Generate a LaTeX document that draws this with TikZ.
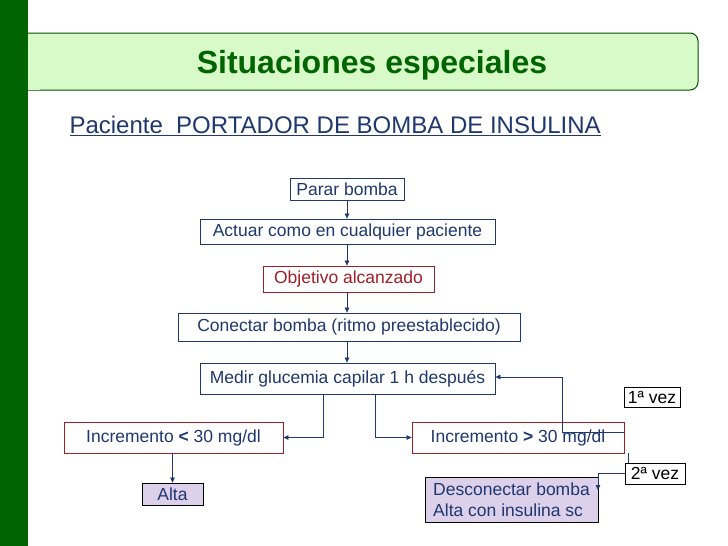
\documentclass[tikz,border=0pt]{standalone}
\usepackage{fontspec}
\setmainfont{Liberation Sans}
\usetikzlibrary{arrows.meta}
\definecolor{dg}{RGB}{0,100,0}
\definecolor{lg}{RGB}{216,250,200}
\definecolor{navy}{RGB}{31,56,110}
\definecolor{dred}{RGB}{160,30,40}
\definecolor{lav}{RGB}{220,208,235}
\begin{document}
\begin{tikzpicture}[x=1pt,y=-1pt,
  bx/.style={draw=navy,line width=0.8pt,text=navy,font=\fontsize{17.5}{21}\selectfont,inner sep=0pt},
  rbx/.style={bx,draw=dred},
  arr/.style={draw=navy,line width=0.7pt,-{Triangle[length=5pt,width=4.5pt]}},
  ln/.style={draw=navy,line width=0.7pt}]
\useasboundingbox (0,0) rectangle (728,546);
\fill[white] (0,0) rectangle (728,546);
\fill[dg] (0,0) rectangle (28,546);
\draw[fill=lg,draw=dg!80!black,line width=1pt,rounded corners=8pt] (28,33) -- (698,33) -- (698,90) -- (28,90);
\fill[lg] (28,33.5) rectangle (40,89.5);
\node[text=dg,font=\bfseries\fontsize{32}{36}\selectfont] (title) at (372,65) {Situaciones especiales};
\node[anchor=west,text=navy,font=\fontsize{24}{28}\selectfont] (sub) at (66,126) {\underline{Paciente\ \ PORTADOR DE BOMBA DE INSULINA}};
\node[bx,minimum width=114,minimum height=22] (parar) at (347,189) {Parar bomba};
\node[bx,minimum width=295,minimum height=25] (actuar) at (347.5,231.5) {Actuar como en cualquier paciente\hspace{8pt}};
\node[rbx,text=dred,minimum width=171,minimum height=26] (obj) at (348.5,279) {Objetivo alcanzado};
\node[bx,minimum width=342,minimum height=28] (con) at (349,327) {Conectar bomba (ritmo preestablecido)};
\node[bx,minimum width=295,minimum height=31] (medir) at (347.5,378.5) {Medir glucemia capilar 1 h después};
\node[rbx,minimum width=219,minimum height=31] (imen) at (173.5,437.5) {Incremento \textbf{<} 30 mg/dl};
\node[rbx,minimum width=212,minimum height=31] (imay) at (518,437.5) {Incremento \textbf{>} 30 mg/dl\hspace{8pt}};
\node[bx,draw=black,fill=lav,minimum width=61,minimum height=22] (alta) at (172.5,494) {Alta};
\node[bx,draw=black,fill=lav,minimum width=173,minimum height=45,align=left] (desc) at (511.5,499.5) {Desconectar bomba\\Alta con insulina sc\hspace{20pt}};
\node[bx,draw=black,text=black,minimum width=56,minimum height=20] (v1) at (652,397) {1ª vez};
\node[bx,draw=black,text=black,minimum width=60,minimum height=21] (v2) at (655,473.5) {2ª vez};
\draw[arr] (parar) -- (actuar.north -| parar);
\draw[arr] (actuar.south -| parar) -- (obj.north -| parar);
\draw[arr] (obj.south -| parar) -- (con.north -| parar);
\draw[arr] (con.south -| parar) -- (medir.north -| parar);
\draw[arr] (medir.south -| 323,0) |- (imen.east);
\draw[arr] (medir.south -| 375,0) |- (imay.west);
\draw[arr] (imay.east |- 0,432) -- (562,432) |- (medir.east |- 0,377);
\draw[ln] (628,453) -- (v2.north -| 628,0);
\draw[arr] (v2.west) -| (598,490);
\draw[arr] (imen.south -| alta) -- (alta.north);
\end{tikzpicture}
\end{document}
